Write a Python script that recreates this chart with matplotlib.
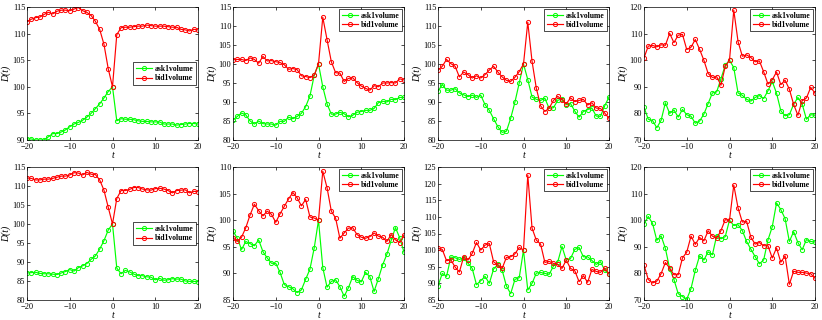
import numpy as np
import matplotlib
matplotlib.use('Agg')
import matplotlib.pyplot as plt

plt.rcParams['font.family'] = ['Liberation Serif', 'DejaVu Serif']
plt.rcParams['font.size'] = 6

t = list(range(-20, 21))

# row 1
ask_1 = [90.2, 90.2, 90.0, 90.0, 90.0, 90.6, 91.2, 91.2, 91.5, 91.9, 92.5, 93.0, 93.3, 93.7, 94.3, 95.0, 95.9, 96.8, 97.9, 99.1, 100.0,
         93.6, 94.0, 93.9, 93.9, 93.8, 93.6, 93.5, 93.5, 93.4, 93.4, 93.4, 93.0, 93.0, 93.0, 92.8, 92.9, 93.0, 93.1, 93.1, 93.0]
bid_1 = [112.2, 112.7, 113.0, 113.1, 113.6, 114.0, 113.7, 114.2, 114.4, 114.4, 114.3, 114.6, 114.9, 114.3, 114.0, 113.4, 112.3, 110.8, 108.0, 103.4, 100.0,
         109.8, 111.1, 111.2, 111.2, 111.3, 111.4, 111.4, 111.6, 111.5, 111.4, 111.4, 111.4, 111.3, 111.2, 111.2, 110.8, 110.7, 110.5, 110.8, 110.7]
ask_2 = [85.2, 86.2, 87.1, 86.6, 85.0, 84.2, 85.0, 84.3, 84.2, 84.2, 83.9, 84.9, 84.9, 86.0, 85.6, 86.2, 87.0, 88.8, 91.6, 97.0, 100.0,
         94.0, 89.5, 86.8, 86.8, 87.3, 86.9, 86.1, 86.5, 87.3, 87.5, 87.8, 87.8, 88.3, 89.8, 90.2, 90.0, 90.7, 90.6, 91.2, 91.2]
bid_2 = [101.1, 101.2, 101.2, 100.9, 101.6, 101.2, 100.2, 102.0, 100.8, 100.9, 100.6, 100.4, 99.8, 98.6, 98.8, 98.5, 96.9, 96.7, 96.4, 97.1, 100.0,
         112.3, 106.4, 100.6, 97.7, 97.6, 95.4, 96.2, 96.4, 95.1, 94.2, 93.6, 93.1, 94.3, 94.0, 95.0, 95.0, 95.1, 95.0, 96.1, 95.8]
ask_3 = [92.8, 94.6, 93.1, 93.1, 93.5, 92.4, 91.9, 91.4, 91.8, 91.2, 91.8, 89.3, 87.8, 85.6, 83.5, 82.0, 82.3, 85.7, 90.0, 95.0, 100.0,
         95.9, 91.3, 90.7, 90.4, 91.0, 88.3, 88.5, 90.4, 90.9, 89.3, 89.6, 87.6, 86.0, 87.5, 88.0, 88.4, 86.3, 86.2, 89.0, 91.3]
bid_3 = [98.3, 99.4, 101.2, 100.1, 99.4, 96.6, 97.9, 97.2, 96.3, 96.9, 96.3, 97.2, 98.4, 99.4, 97.9, 96.6, 95.7, 95.4, 96.5, 98.0, 100.0,
         111.0, 100.7, 93.6, 89.0, 87.5, 88.4, 90.4, 91.5, 90.6, 89.5, 91.1, 90.1, 90.4, 90.7, 89.2, 89.8, 88.4, 88.3, 87.1, 85.7]
ask_4 = [82.3, 77.8, 77.3, 74.6, 77.4, 84.0, 80.0, 81.3, 78.6, 81.5, 79.5, 78.9, 76.3, 77.1, 79.7, 83.7, 87.7, 88.1, 93.0, 98.1, 100.0,
         97.2, 87.7, 86.8, 85.3, 84.6, 86.0, 86.7, 85.6, 88.5, 92.0, 87.6, 81.0, 79.1, 79.5, 83.4, 86.0, 83.5, 77.8, 79.5, 79.3]
bid_4 = [100.9, 105.3, 105.6, 105.0, 105.8, 105.6, 110.1, 106.6, 109.4, 109.7, 104.0, 104.9, 107.8, 104.1, 100.0, 95.0, 93.5, 93.8, 90.6, 97.7, 100.0,
         118.8, 107.0, 101.5, 102.0, 101.0, 99.4, 99.7, 95.6, 91.0, 92.6, 95.6, 90.8, 92.5, 89.1, 83.4, 79.3, 84.8, 85.8, 89.8, 87.6]

# row 2
ask_5 = [87.1, 87.2, 87.3, 87.0, 86.9, 86.9, 86.8, 86.7, 87.1, 87.5, 88.0, 87.6, 88.5, 89.0, 89.6, 90.7, 91.6, 93.4, 95.6, 98.4, 100.0,
         88.4, 86.9, 87.8, 87.4, 86.8, 86.4, 86.4, 86.1, 86.0, 85.3, 85.7, 85.2, 85.3, 85.6, 85.5, 85.5, 85.0, 84.9, 84.9, 84.8]
bid_5 = [112.1, 112.0, 111.6, 111.6, 111.8, 111.8, 112.0, 112.3, 112.6, 112.6, 112.9, 113.5, 113.4, 112.9, 113.6, 113.1, 113.0, 111.6, 108.9, 104.4, 100.0,
         106.7, 108.8, 108.8, 109.1, 109.6, 109.6, 109.2, 109.0, 108.9, 109.3, 109.4, 109.2, 108.8, 108.2, 108.8, 108.9, 109.0, 108.2, 108.6, 108.5]
ask_6 = [98.0, 96.6, 94.5, 96.0, 95.6, 95.2, 96.3, 94.1, 92.9, 91.9, 91.9, 90.2, 87.9, 87.5, 87.1, 86.4, 86.9, 88.9, 90.8, 94.8, 100.0,
         91.1, 87.4, 88.5, 88.8, 87.5, 85.7, 87.3, 89.4, 88.7, 88.4, 90.2, 89.4, 86.6, 89.0, 91.6, 93.6, 96.2, 98.6, 96.7, 94.0]
bid_6 = [96.7, 96.0, 96.8, 98.6, 101.0, 103.0, 101.8, 100.8, 101.7, 101.1, 99.6, 101.2, 102.6, 104.0, 105.2, 104.2, 102.7, 103.9, 100.6, 100.4, 100.0,
         109.2, 106.1, 101.7, 100.4, 96.6, 97.6, 98.5, 98.6, 97.3, 96.8, 96.6, 96.9, 97.6, 97.0, 96.8, 96.0, 97.3, 96.3, 95.8, 97.2]
ask_7 = [89.2, 93.0, 92.1, 97.9, 97.7, 97.2, 97.7, 96.1, 94.5, 89.6, 90.8, 92.1, 90.0, 94.3, 95.7, 94.0, 89.2, 86.9, 91.2, 91.7, 100.0,
         88.0, 90.0, 93.1, 93.3, 93.0, 92.7, 95.2, 96.4, 101.1, 97.0, 97.5, 100.2, 100.8, 98.0, 98.0, 96.9, 95.7, 96.5, 94.0, 92.8]
bid_7 = [100.6, 100.2, 96.8, 97.1, 94.9, 93.4, 98.0, 97.0, 99.0, 102.3, 100.0, 101.5, 102.0, 96.5, 95.5, 94.5, 97.8, 98.0, 98.9, 100.8, 100.0,
         122.6, 106.6, 103.0, 101.8, 96.3, 96.6, 96.0, 95.7, 94.5, 97.0, 94.5, 93.8, 90.5, 92.3, 90.3, 94.2, 93.6, 93.3, 94.6, 92.9]
ask_8 = [98.6, 101.4, 98.8, 92.4, 94.1, 89.4, 81.8, 77.7, 72.4, 71.3, 70.3, 74.3, 81.2, 86.6, 85.0, 88.1, 87.0, 94.2, 93.0, 93.8, 100.0,
         98.0, 98.3, 96.1, 92.0, 89.1, 86.3, 83.6, 85.1, 92.6, 97.5, 106.5, 104.0, 100.6, 92.0, 95.7, 91.6, 88.9, 92.7, 92.0, 91.8]
bid_8 = [83.1, 77.7, 76.4, 77.1, 79.9, 84.1, 82.0, 79.5, 79.5, 85.8, 88.0, 94.0, 90.9, 93.5, 92.2, 96.0, 94.0, 93.2, 96.1, 100.2, 100.0,
         113.2, 104.6, 99.3, 99.6, 93.6, 91.0, 91.6, 90.4, 90.4, 85.8, 89.6, 84.2, 86.6, 75.9, 80.8, 80.4, 80.4, 80.1, 79.9, 78.2]

asks = [ask_1, ask_2, ask_3, ask_4, ask_5, ask_6, ask_7, ask_8]
bids = [bid_1, bid_2, bid_3, bid_4, bid_5, bid_6, bid_7, bid_8]
ylims = [(90, 115), (80, 115), (80, 115), (70, 120), (80, 115), (85, 110), (85, 125), (70, 120)]
ysteps = [5, 5, 5, 10, 5, 5, 5, 10]
leg_locs = ['center right', 'upper right', 'upper right', 'upper right',
            'center right', 'upper right', 'upper right', 'upper right']

fig = plt.figure(figsize=(8.22, 3.2), dpi=100)
lefts = [27, 233, 438, 644]
bottoms = [180, 20]

for i in range(8):
    r, c = divmod(i, 4)
    ax = fig.add_axes([lefts[c] / 822, bottoms[r] / 320, 171 / 822, 133 / 320])
    ax.plot(t, asks[i], color=(0, 1, 0), marker='o', markersize=3, markerfacecolor='none',
            markeredgewidth=0.7, linewidth=0.85, label='ask1volume')
    ax.plot(t, bids[i], color=(1, 0, 0), marker='o', markersize=3, markerfacecolor='none',
            markeredgewidth=0.7, linewidth=0.85, label='bid1volume')
    ax.set_xlim(-20, 20)
    ax.set_ylim(*ylims[i])
    ax.set_xticks([-20, -10, 0, 10, 20])
    ax.set_yticks(np.arange(ylims[i][0], ylims[i][1] + 0.1, ysteps[i]))
    ax.tick_params(direction='in', top=True, right=True, length=2.5, width=0.5, labelsize=6)
    ax.tick_params(axis='x', pad=2.5)
    ax.tick_params(axis='y', pad=1.2)
    for s in ax.spines.values():
        s.set_linewidth(0.5)
    ax.set_xlabel('t', fontstyle='italic', fontsize=7, labelpad=0)
    ax.set_ylabel('D(t)', fontstyle='italic', fontsize=7, labelpad=1)
    leg = ax.legend(loc=leg_locs[i], prop={'weight': 'bold', 'size': 5.5}, fancybox=False,
                    framealpha=1, edgecolor='black', handlelength=2.2, borderpad=0.3,
                    labelspacing=0.2, handletextpad=0.3, borderaxespad=0.3)
    leg.get_frame().set_linewidth(0.5)

plt.savefig('out.png', dpi=100)
